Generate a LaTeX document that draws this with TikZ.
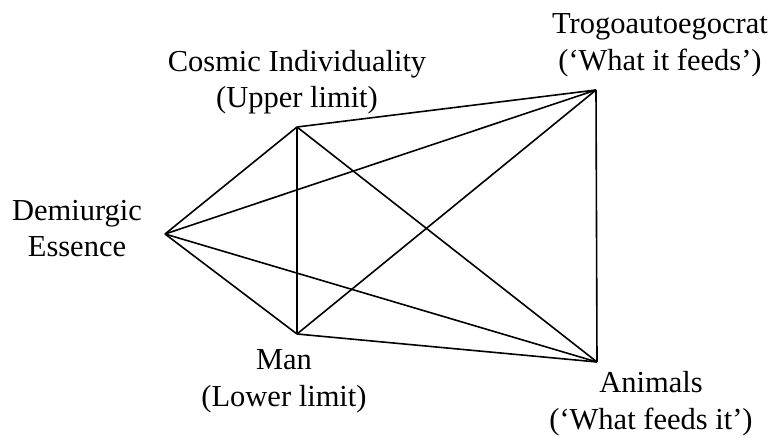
\documentclass[tikz,border=0pt]{standalone}
\usepackage{fontspec}
\setmainfont{Liberation Serif}
\usepackage{tikz}
\usetikzlibrary{positioning}

\begin{document}
\begin{tikzpicture}[
  x=1pt, y=-1pt,
  lab/.style={align=center, inner sep=0pt, font=\fontsize{30.5}{36.5}\selectfont},
  edge/.style={line width=1.6pt, line join=miter},
]
  \useasboundingbox (0,0) rectangle (779,438);
  % corners of the figure
  \coordinate (dem) at (165,234);
  \coordinate (cos) at (297,127);
  \coordinate (tro) at (596,90);
  \coordinate (man) at (297,334);
  \coordinate (ani) at (597,362);
  % labels
  \node[lab] (demlab) at (77,228.5) {Demiurgic\\ Essence};
  \node[lab] (coslab) at (297,82) {Cosmic Individuality\\ (Upper limit)};
  \node[lab] (trolab) at (660,45.5) {Trogoautoegocrat\\ (`What it feeds')};
  \node[lab] (manlab) at (284,381.5) {Man\\ (Lower limit)};
  \node[lab] (anilab) at (651,403.5) {Animals\\ (`What feeds it')};
  % every pair joined
  \draw[edge] (dem) -- (cos);
  \draw[edge] (dem) -- (tro);
  \draw[edge] (dem) -- (man);
  \draw[edge] (dem) -- (ani);
  \draw[edge] (cos) -- (tro);
  \draw[edge] (cos) -- (man);
  \draw[edge] (cos) -- (ani);
  \draw[edge] (tro) -- (man);
  \draw[edge] (tro) -- (ani);
  \draw[edge] (man) -- (ani);
\end{tikzpicture}
\end{document}
